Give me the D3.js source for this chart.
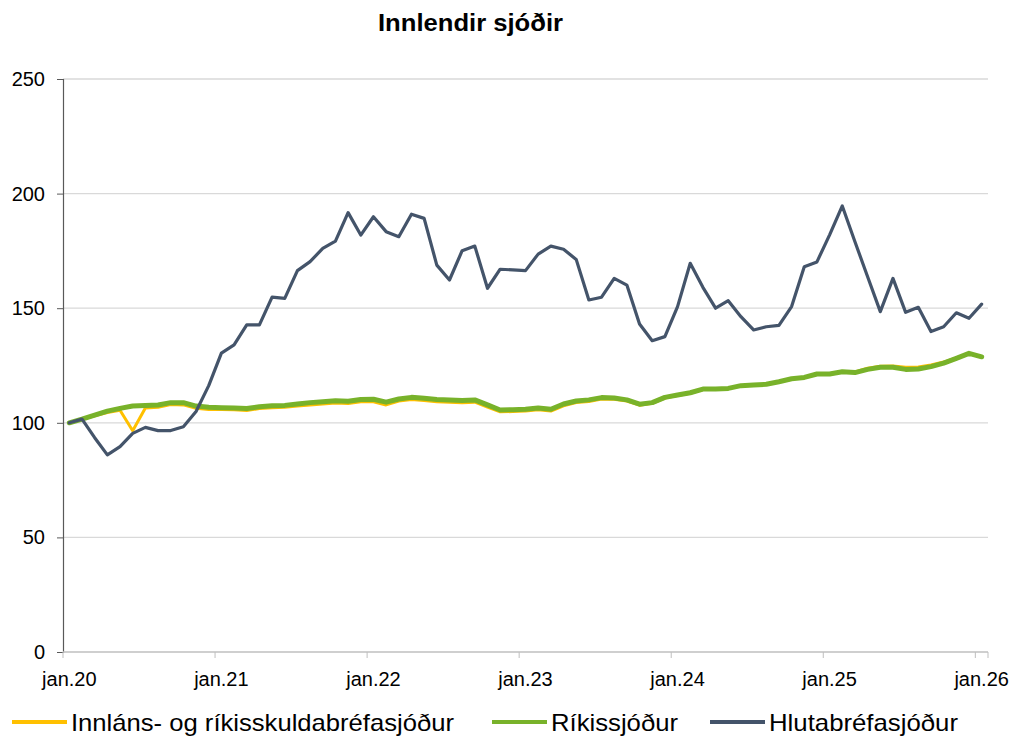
<!DOCTYPE html>
<html>
<head>
<meta charset="utf-8">
<script src="https://cdn.jsdelivr.net/npm/d3@7"></script>
<style>
  html,body{margin:0;padding:0;background:#fff;}
  svg text{font-family:"Liberation Sans",Arial,sans-serif;}
</style>
</head>
<body>
<div id="chart"></div>
<script>
// gögn: mánaðarleg vísitala, jan.20 = 100
const months = d3.range(73).map(i => ({ y: 20 + Math.floor(i / 12), m: i % 12 }))
const yearLabels = ['jan.20','jan.21','jan.22','jan.23','jan.24','jan.25','jan.26']
const yTicks = [0, 50, 100, 150, 200, 250]

const innlans = [
  100, 101.5, 103, 104.5, 105.5, 96.5, 106.5, 106.8, 108, 107.8, 106.3, 105.8,
  105.8, 105.7, 105.4, 106.2, 106.6, 106.8, 107.3, 107.8, 108.2, 108.6, 108.4, 109.2,
  109.2, 107.8, 109.5, 110.2, 109.7, 109.2, 109, 108.8, 109, 106.8, 104.8, 104.9,
  105.1, 105.7, 105.1, 107.4, 108.8, 109.3, 110.4, 110.3, 109.5, 107.7, 108.5, 110.8,
  111.9, 112.9, 114.5, 114.6, 114.9, 116.1, 116.4, 116.7, 117.8, 119.1, 119.8, 121.3,
  121.4, 122.4, 122.2, 123.8, 124.7, 124.8, 124.2, 124.4, 125.2, 126.5, 128.3, 130.3,
  128.8
]
const rikis = [
  100, 101.6, 103.4, 105.1, 106.3, 107.3, 107.5, 107.8, 108.8, 108.8, 107.3, 106.8,
  106.6, 106.5, 106.2, 107, 107.4, 107.6, 108.2, 108.8, 109.2, 109.6, 109.4, 110.2,
  110.3, 109, 110.4, 111.1, 110.7, 110.2, 110, 109.7, 110, 107.8, 105.6, 105.7,
  105.9, 106.5, 105.9, 108.2, 109.5, 110, 111, 110.8, 110, 108.1, 108.8, 111.1,
  112.1, 113.1, 114.7, 114.7, 115, 116.2, 116.5, 116.8, 117.9, 119.2, 119.8, 121.3,
  121.3, 122.3, 121.9, 123.3, 124.2, 124.2, 123.3, 123.5, 124.5, 126, 128.1, 130.3,
  128.8
]
const hluta = [
  100, 101.6, 93.5, 86, 89.6, 95.4, 98, 96.6, 96.6, 98.3, 104.9, 116.2,
  130.4, 134, 142.7, 142.7, 154.8, 154.3, 166.4, 170.3, 176.1, 179.3, 191.7, 181.9,
  189.9, 183.4, 181.2, 191, 189.2, 168.8, 162.3, 175.1, 177.1, 158.7, 167, 166.7,
  166.4, 173.6, 177.1, 175.7, 171.3, 153.6, 154.8, 163, 160.1, 143.1, 135.8, 137.6,
  150.7, 169.6, 159.1, 150, 153.3, 146.3, 140.5, 141.9, 142.5, 150.7, 168.1, 170.2,
  182, 194.6, 179, 163.7, 148.5, 163, 148.2, 150.4, 139.8, 141.9, 148, 145.6,
  151.8
]

const seriesNames = ['Innláns- og ríkisskuldabréfasjóður', 'Ríkissjóður', 'Hlutabréfasjóður']
const seriesColors = ['#FFC000', '#78B22A', '#44546A']

// ================= uppsetning =================
const W = 1011, H = 738
const margin = { left: 63, right: 1011 - 988, top: 79, bottom: 738 - 652 }

const svg = d3.select('#chart').append('svg')
  .attr('width', W).attr('height', H)

const x = d3.scaleLinear().domain([0, months.length]).range([margin.left, W - margin.right])
const y = d3.scaleLinear().domain([0, 250]).range([H - margin.bottom, margin.top])

// titill
svg.append('text')
  .attr('x', 378).attr('y', 31)
  .attr('textLength', 185).attr('lengthAdjust', 'spacingAndGlyphs')
  .style('font-size', '23px').style('font-weight', 'bold')
  .text('Innlendir sjóðir')

// gridlínur
svg.append('g').selectAll('line')
  .data(yTicks.filter(d => d > 0))
  .join('line')
  .attr('x1', x(0)).attr('x2', x(months.length))
  .attr('y1', d => y(d)).attr('y2', d => y(d))
  .attr('stroke', '#D9D9D9').attr('stroke-width', 1.3)

// y-ás
const yAxis = svg.append('g')
  .attr('transform', `translate(${margin.left},0)`)
  .call(d3.axisLeft(y).tickValues(yTicks).tickSize(6).tickPadding(12))
yAxis.select('.domain').attr('stroke', '#595959').attr('stroke-width', 1.2)
yAxis.selectAll('.tick line').attr('stroke', '#595959')
yAxis.selectAll('text').style('font-size', '20px').attr('fill', '#000')

// x-ás: strik á áramótum, merki á miðjum mánuði
const xAxis = svg.append('g')
  .attr('transform', `translate(0,${y(0)})`)
xAxis.append('line')
  .attr('x1', x(0)).attr('x2', x(months.length))
  .attr('stroke', '#BFBFBF').attr('stroke-width', 1.3)
xAxis.selectAll('line.tk')
  .data(yearLabels)
  .join('line').attr('class', 'tk')
  .attr('x1', (d, i) => x(i * 12)).attr('x2', (d, i) => x(i * 12))
  .attr('y1', 0).attr('y2', 6)
  .attr('stroke', '#BFBFBF')
xAxis.append('line')
  .attr('x1', x(months.length)).attr('x2', x(months.length))
  .attr('y1', 0).attr('y2', 6).attr('stroke', '#BFBFBF')
xAxis.selectAll('text')
  .data(yearLabels)
  .join('text')
  .attr('x', (d, i) => x(i * 12 + 0.5))
  .attr('y', 34)
  .attr('text-anchor', 'middle')
  .style('font-size', '20px')
  .text(d => d)

// línur
const line = d3.line()
  .x((d, i) => x(i + 0.5))
  .y(d => y(d))
  .curve(d3.curveLinear)

const lines = [
  { data: innlans, color: seriesColors[0], w: 3 },
  { data: rikis, color: seriesColors[1], w: 5 },
  { data: hluta, color: seriesColors[2], w: 3.2 }
]
svg.append('g').selectAll('path')
  .data(lines)
  .join('path')
  .attr('d', d => line(d.data))
  .attr('fill', 'none')
  .attr('stroke', d => d.color)
  .attr('stroke-width', d => d.w)
  .attr('stroke-linejoin', 'round')
  .attr('stroke-linecap', 'round')

// skýringar
const legendPos = [12, 492, 710]
const legendTextW = [383, 127, 189]
const lg = svg.append('g').selectAll('g')
  .data(seriesNames)
  .join('g')
  .attr('transform', (d, i) => `translate(${legendPos[i]},722)`)
lg.append('line')
  .attr('x1', 0).attr('x2', 55)
  .attr('stroke', (d, i) => seriesColors[i])
  .attr('stroke-width', 4)
lg.append('text')
  .attr('x', 59).attr('y', 9)
  .attr('textLength', (d, i) => legendTextW[i]).attr('lengthAdjust', 'spacingAndGlyphs')
  .style('font-size', '24px')
  .text(d => d)
</script>
</body>
</html>
